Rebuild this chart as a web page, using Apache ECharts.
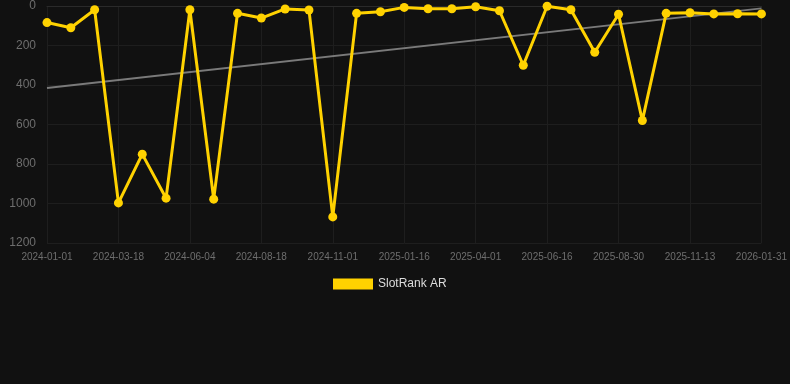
<!DOCTYPE html>
<html>
<head>
<meta charset="utf-8">
<script src="https://cdn.jsdelivr.net/npm/echarts@6/dist/echarts.min.js"></script>
<style>
html,body{margin:0;padding:0;background:#111111;}
#c{width:790px;height:384px;}
</style>
</head>
<body>
<div id="c"></div>
<script>
const categories = [
  '2024-01-01','2024-01-26','2024-02-21','2024-03-18','2024-04-12','2024-05-09',
  '2024-06-04','2024-06-29','2024-07-24','2024-08-18','2024-09-12','2024-10-07',
  '2024-11-01','2024-11-26','2024-12-22','2025-01-16','2025-02-10','2025-03-07',
  '2025-04-01','2025-04-26','2025-05-22','2025-06-16','2025-07-11','2025-08-05',
  '2025-08-30','2025-09-24','2025-10-19','2025-11-13','2025-12-08','2026-01-04',
  '2026-01-31'
];
const rankValues = [
  84,110,19,997,750,973,19,978,37,61,15,20,1068,37,29,7,14,14,4,24,300,1,19,234,42,580,37,34,40,39,40
];
const trendStart = 415;
const trendEnd = 12;
const seriesName = 'SlotRank AR';

const chart = echarts.init(document.getElementById('c'), null, {renderer:'canvas'});
chart.setOption({
  backgroundColor: '#111111',
  animation: false,
  grid: {left: 47, right: 28, top: 6, bottom: 141},
  legend: {
    data: [seriesName],
    top: 273,
    left: 328,
    icon: 'rect',
    itemWidth: 40,
    itemHeight: 11,
    itemGap: 10,
    textStyle: {color: '#dddddd', fontSize: 12, fontFamily: 'Liberation Sans, Arial, sans-serif'}
  },
  xAxis: {
    type: 'category',
    data: categories,
    boundaryGap: false,
    axisLine: {show: true, lineStyle: {color: '#2a2a2a'}},
    axisTick: {show: false},
    axisLabel: {
      interval: 2,
      color: '#6e6e6e',
      fontSize: 10,
      margin: 9,
      fontFamily: 'Liberation Sans, Arial, sans-serif'
    },
    splitLine: {show: true, interval: 2, lineStyle: {color: '#1e1e1e'}}
  },
  yAxis: {
    type: 'value',
    inverse: true,
    min: 0,
    max: 1200,
    interval: 200,
    axisLine: {show: false},
    axisTick: {show: false},
    axisLabel: {
      color: '#6e6e6e', fontSize: 12, margin: 11,
      fontFamily: 'Liberation Sans, Arial, sans-serif',
      formatter: function (v) { return String(v); }
    },
    splitLine: {show: true, lineStyle: {color: '#1e1e1e'}}
  },
  series: [
    {
      name: seriesName,
      type: 'line',
      data: rankValues,
      symbol: 'circle',
      symbolSize: 9,
      itemStyle: {color: '#FFD200'},
      lineStyle: {color: '#FFD200', width: 3},
      z: 3
    },
    {
      name: 'trend',
      type: 'line',
      data: [[categories[0], trendStart], [categories[categories.length - 1], trendEnd]],
      symbol: 'none',
      lineStyle: {color: '#7a7a7a', width: 2},
      z: 2
    }
  ]
});
</script>
</body>
</html>
